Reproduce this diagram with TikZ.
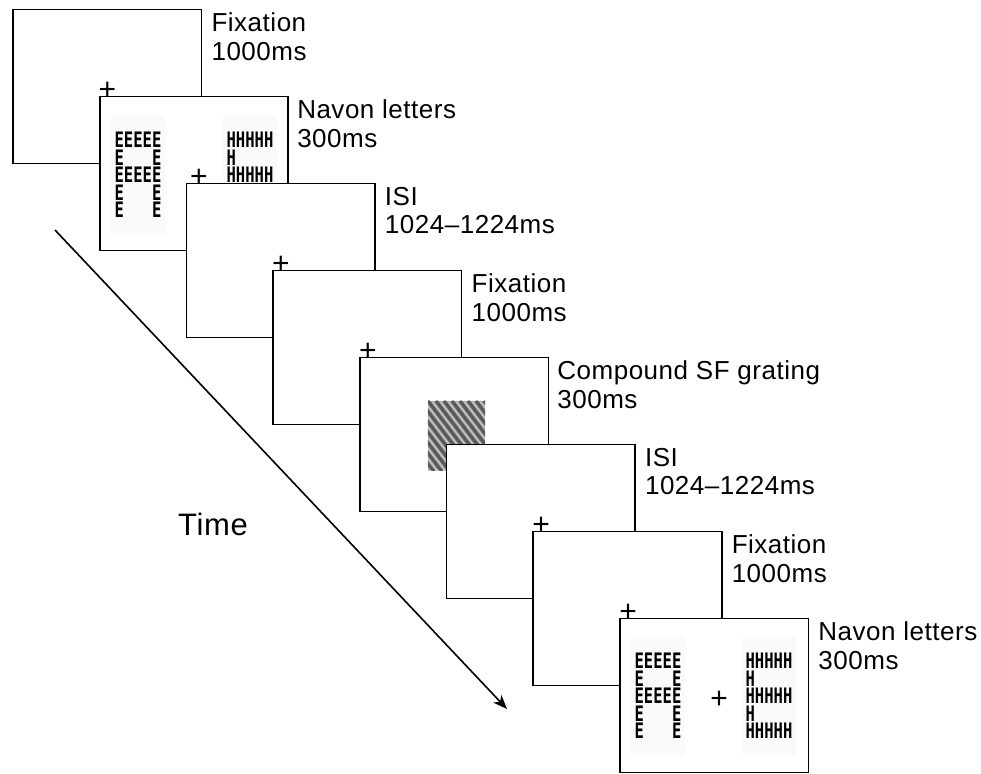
\documentclass[tikz,border=0pt]{standalone}
\usepackage{fontspec}
\setmainfont{Liberation Sans}[LetterSpace=2]
\newfontfamily\navonfont{DejaVu Sans Mono}[FakeStretch=0.73]
\usetikzlibrary{arrows.meta}

\begin{document}
\begin{tikzpicture}[
  x=1pt, y=-1pt,
  screen/.style={draw, line width=1.6pt, fill=white, inner sep=0pt, minimum width=188.5pt, minimum height=154pt},
  steplabel/.style={anchor=north west, align=left, inner sep=0pt, font=\fontsize{26}{28.5}\selectfont},
  fixcross/.style={inner sep=0pt, font=\fontsize{30}{30}\selectfont},
  navon/.style={fill=black!2, inner xsep=3.5pt, inner ysep=16pt, align=left, font=\navonfont\bfseries\fontsize{21.3}{17.5}\selectfont},
  grating/.style={fill=black!45, inner sep=0pt, minimum width=57pt, minimum height=69pt},
  timeline/.style={line width=1.6pt, -{Stealth[length=14pt, width=11pt, inset=4pt]}}
]
\useasboundingbox (0,0) rectangle (981,773);

% Time axis
\coordinate (tstart) at (55,230);
\coordinate (tend) at (507,709);
\draw[timeline] (tstart) -- (tend);
\node[font=\fontsize{31}{31}\selectfont, anchor=base west, inner sep=0pt] (time) at (178,535) {Time};

% Screen 1: fixation
\node[screen] (s1) at (107.3,86.5) {};
\node[fixcross] (c1) at (107.3,90.5) {+};
\node[steplabel] (l1) at ([xshift=9pt, yshift=-4pt]s1.north east) {Fixation\\1000ms};

% Screen 2: Navon letters
\node[screen] (s2) at (194,173.5) {};
\node[navon] (a2) at (138,175) {EEEEE\\E\phantom{EEE}E\\EEEEE\\E\phantom{EEE}E\\E\phantom{EEE}E};
\node[navon] (e2) at (250,175) {HHHHH\\H\phantom{HHHH}\\HHHHH\\H\phantom{HHHH}\\HHHHH};
\node[fixcross] (c2) at (199,177.5) {+};
\node[steplabel] (l2) at ([xshift=8pt, yshift=-4pt]s2.north east) {Navon letters\\300ms};

% Screen 3: ISI
\node[screen] (s3) at (280.7,260.5) {};
\node[fixcross] (c3) at (281,264.5) {+};
\node[steplabel] (l3) at ([xshift=9pt, yshift=-4pt]s3.north east) {ISI\\1024\textendash1224ms};

% Screen 4: fixation
\node[screen] (s4) at (367.4,347.5) {};
\node[fixcross] (c4) at (368,351.5) {+};
\node[steplabel] (l4) at ([xshift=9pt, yshift=-4pt]s4.north east) {Fixation\\1000ms};

% Screen 5: compound grating
\node[screen] (s5) at (454.1,434.5) {};
\node[grating] (g5) at (456.5,435.5) {};
\begin{scope}
  \clip (g5.north west) rectangle (g5.south east);
  \foreach \k in {-64,-56,...,64}
    \draw[black!65, line width=3pt] (428+\k,401) -- ++(55,72);
  \foreach \k in {-60,-52,...,68}
    \draw[black!25, line width=1.8pt] (428+\k,401) -- ++(55,72);
\end{scope}
\node[steplabel] (l5) at ([xshift=8pt, yshift=-4pt]s5.north east) {Compound SF grating\\300ms};

% Screen 6: ISI
\node[screen] (s6) at (540.8,521.5) {};
\node[fixcross] (c6) at (541,525.5) {+};
\node[steplabel] (l6) at ([xshift=9pt, yshift=-4pt]s6.north east) {ISI\\1024\textendash1224ms};

% Screen 7: fixation
\node[screen] (s7) at (627.5,608.5) {};
\node[fixcross] (c7) at (628,612.5) {+};
\node[steplabel] (l7) at ([xshift=9pt, yshift=-4pt]s7.north east) {Fixation\\1000ms};

% Screen 8: Navon letters
\node[screen] (s8) at (714.2,695.5) {};
\node[navon] (a8) at (658,696) {EEEEE\\E\phantom{EEE}E\\EEEEE\\E\phantom{EEE}E\\E\phantom{EEE}E};
\node[navon] (e8) at (769,696) {HHHHH\\H\phantom{HHHH}\\HHHHH\\H\phantom{HHHH}\\HHHHH};
\node[fixcross] (c8) at (719,699.5) {+};
\node[steplabel] (l8) at ([xshift=9pt, yshift=-4pt]s8.north east) {Navon letters\\300ms};
\end{tikzpicture}
\end{document}
